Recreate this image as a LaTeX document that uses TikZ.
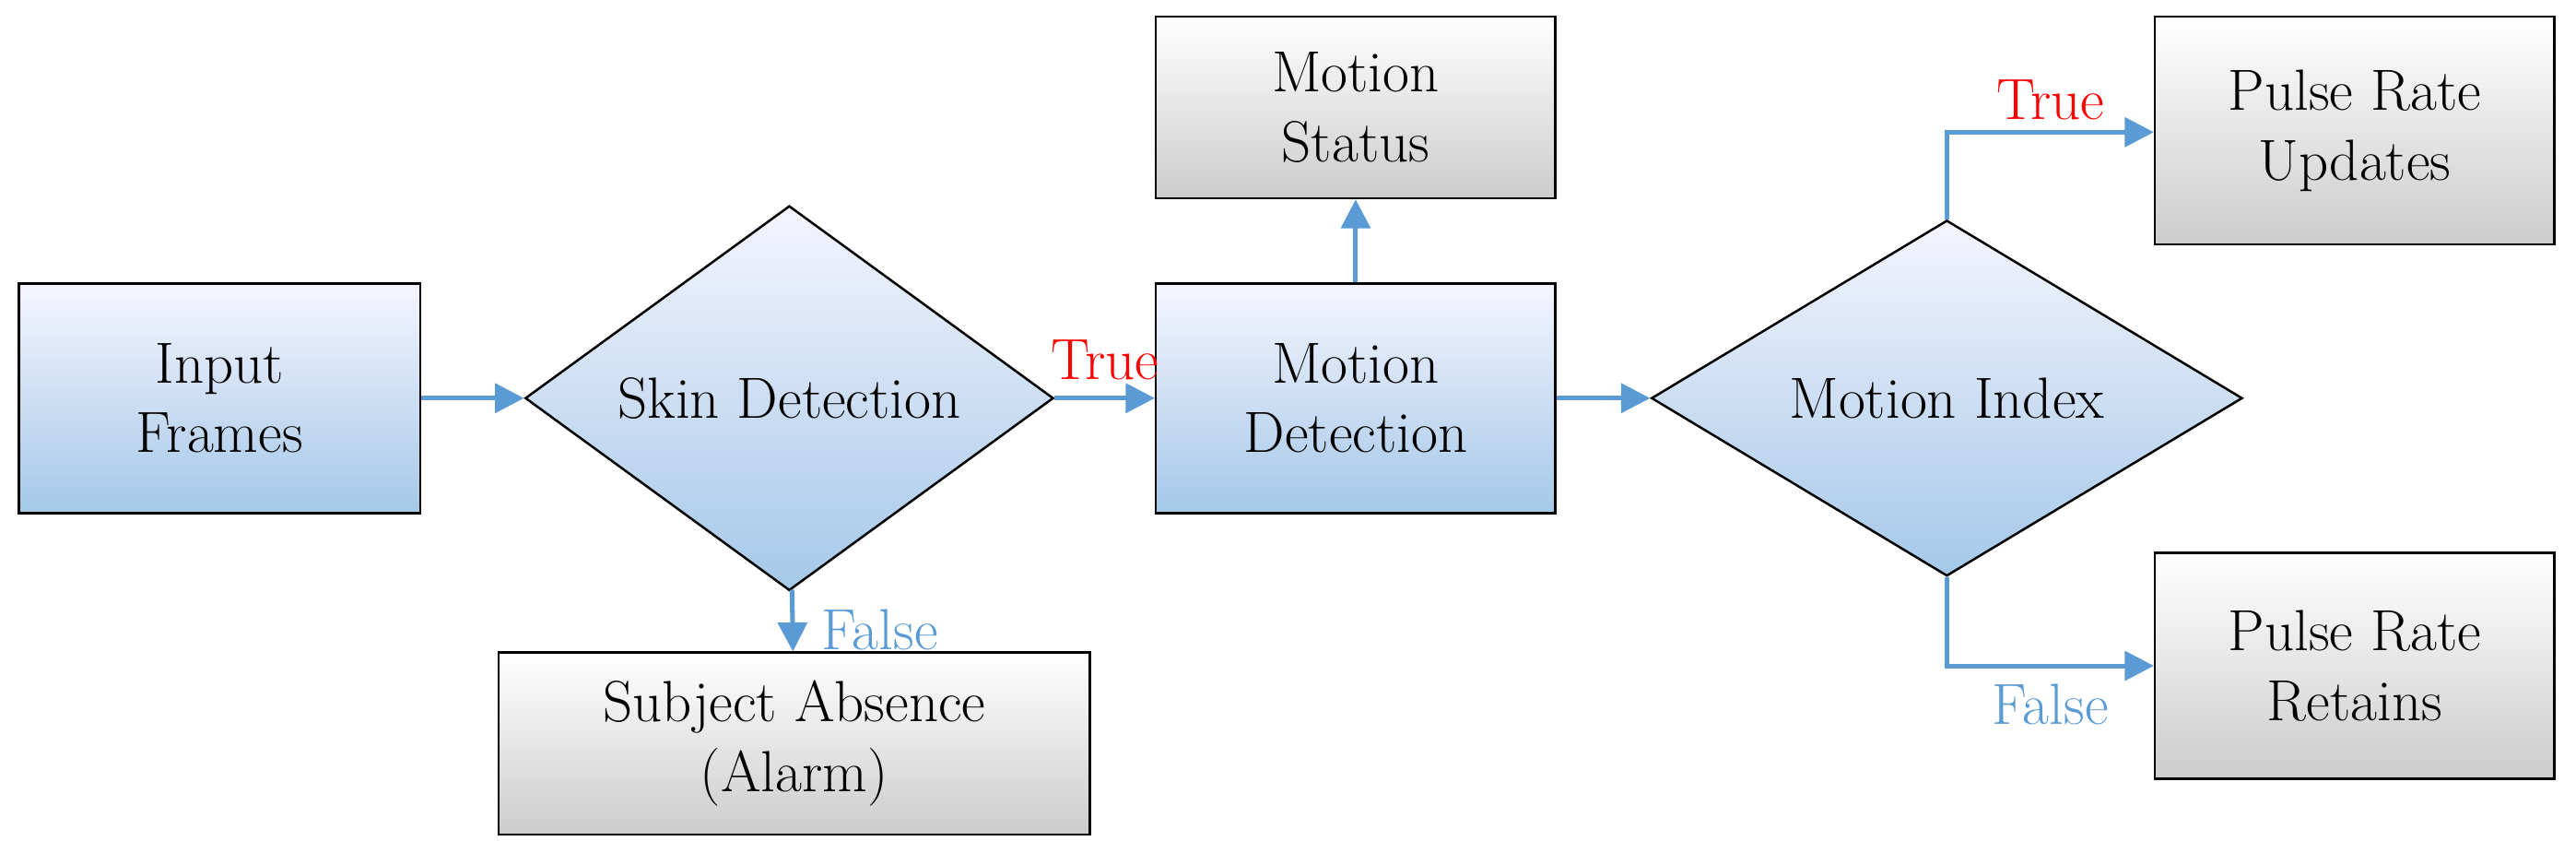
\documentclass[tikz,border=0pt]{standalone}
\usetikzlibrary{shapes.geometric,arrows.meta}
\definecolor{flowblue}{HTML}{5B9BD5}
\tikzset{%
proc/.style={draw,thick,rectangle,top color=blue!4,bottom color=flowblue!55,align=center,inner sep=0pt},
outp/.style={draw,thick,rectangle,top color=white,bottom color=gray!40,align=center,inner sep=0pt},
dec/.style={draw,thick,diamond,top color=blue!4,bottom color=flowblue!55,align=center,inner sep=0pt,minimum height=4.14cm},
flow/.style={flowblue,line width=1.6pt,-{Triangle[length=10pt,width=10pt]}},
lbl/.style={font=\fontsize{20}{24}\selectfont}
}
\begin{document}
\begin{tikzpicture}[x=0.02cm,y=-0.02cm,
                    every node/.append style={font=\fontsize{20}{24}\selectfont}]
\useasboundingbox (0,0) rectangle (1560,516);
\node[proc,minimum width=4.86cm,minimum height=2.78cm] (InFrames) at (133,241) {Input\\Frames};
\node[dec,minimum width=6.4cm] (SkinDet) at (478,241) {Skin Detection};
\node[outp,minimum width=7.16cm,minimum height=2.2cm] (SubjAbs) at (481,450) {Subject Absence\\(Alarm)};
\node[proc,minimum width=4.84cm,minimum height=2.78cm] (MotDet) at (821,241) {Motion\\Detection};
\node[outp,minimum width=4.84cm,minimum height=2.2cm] (MotStat) at (821,65) {Motion\\Status};
\node[dec,minimum width=7.16cm] (MotIdx) at (1179,241) {Motion Index};
\node[outp,minimum width=4.84cm,minimum height=2.76cm] (PRUpd) at (1426,79) {Pulse Rate\\Updates};
\node[outp,minimum width=4.84cm,minimum height=2.74cm] (PRRet) at (1426,403) {Pulse Rate\\Retains};
%%
\draw[flow] (InFrames) -- (SkinDet);
\draw[flow] (SkinDet) -- node[above,red,yshift=2pt] (lTrue1) {True} (MotDet);
\draw[flow] (SkinDet) -- node[right,xshift=6pt,yshift=-3pt] (lFalse1) {False} (SubjAbs);
\draw[flow] (MotDet) -- (MotStat);
\draw[flow] (MotDet) -- (MotIdx);
\draw[flow] (MotIdx.north) |- node[pos=0.75,above,red] (lTrue2) {True} (PRUpd.west |- 0,80);
\draw[flow] (MotIdx.south) |- node[pos=0.75,below,yshift=-2pt] (lFalse2) {False} (PRRet);
\end{tikzpicture}
\end{document}
